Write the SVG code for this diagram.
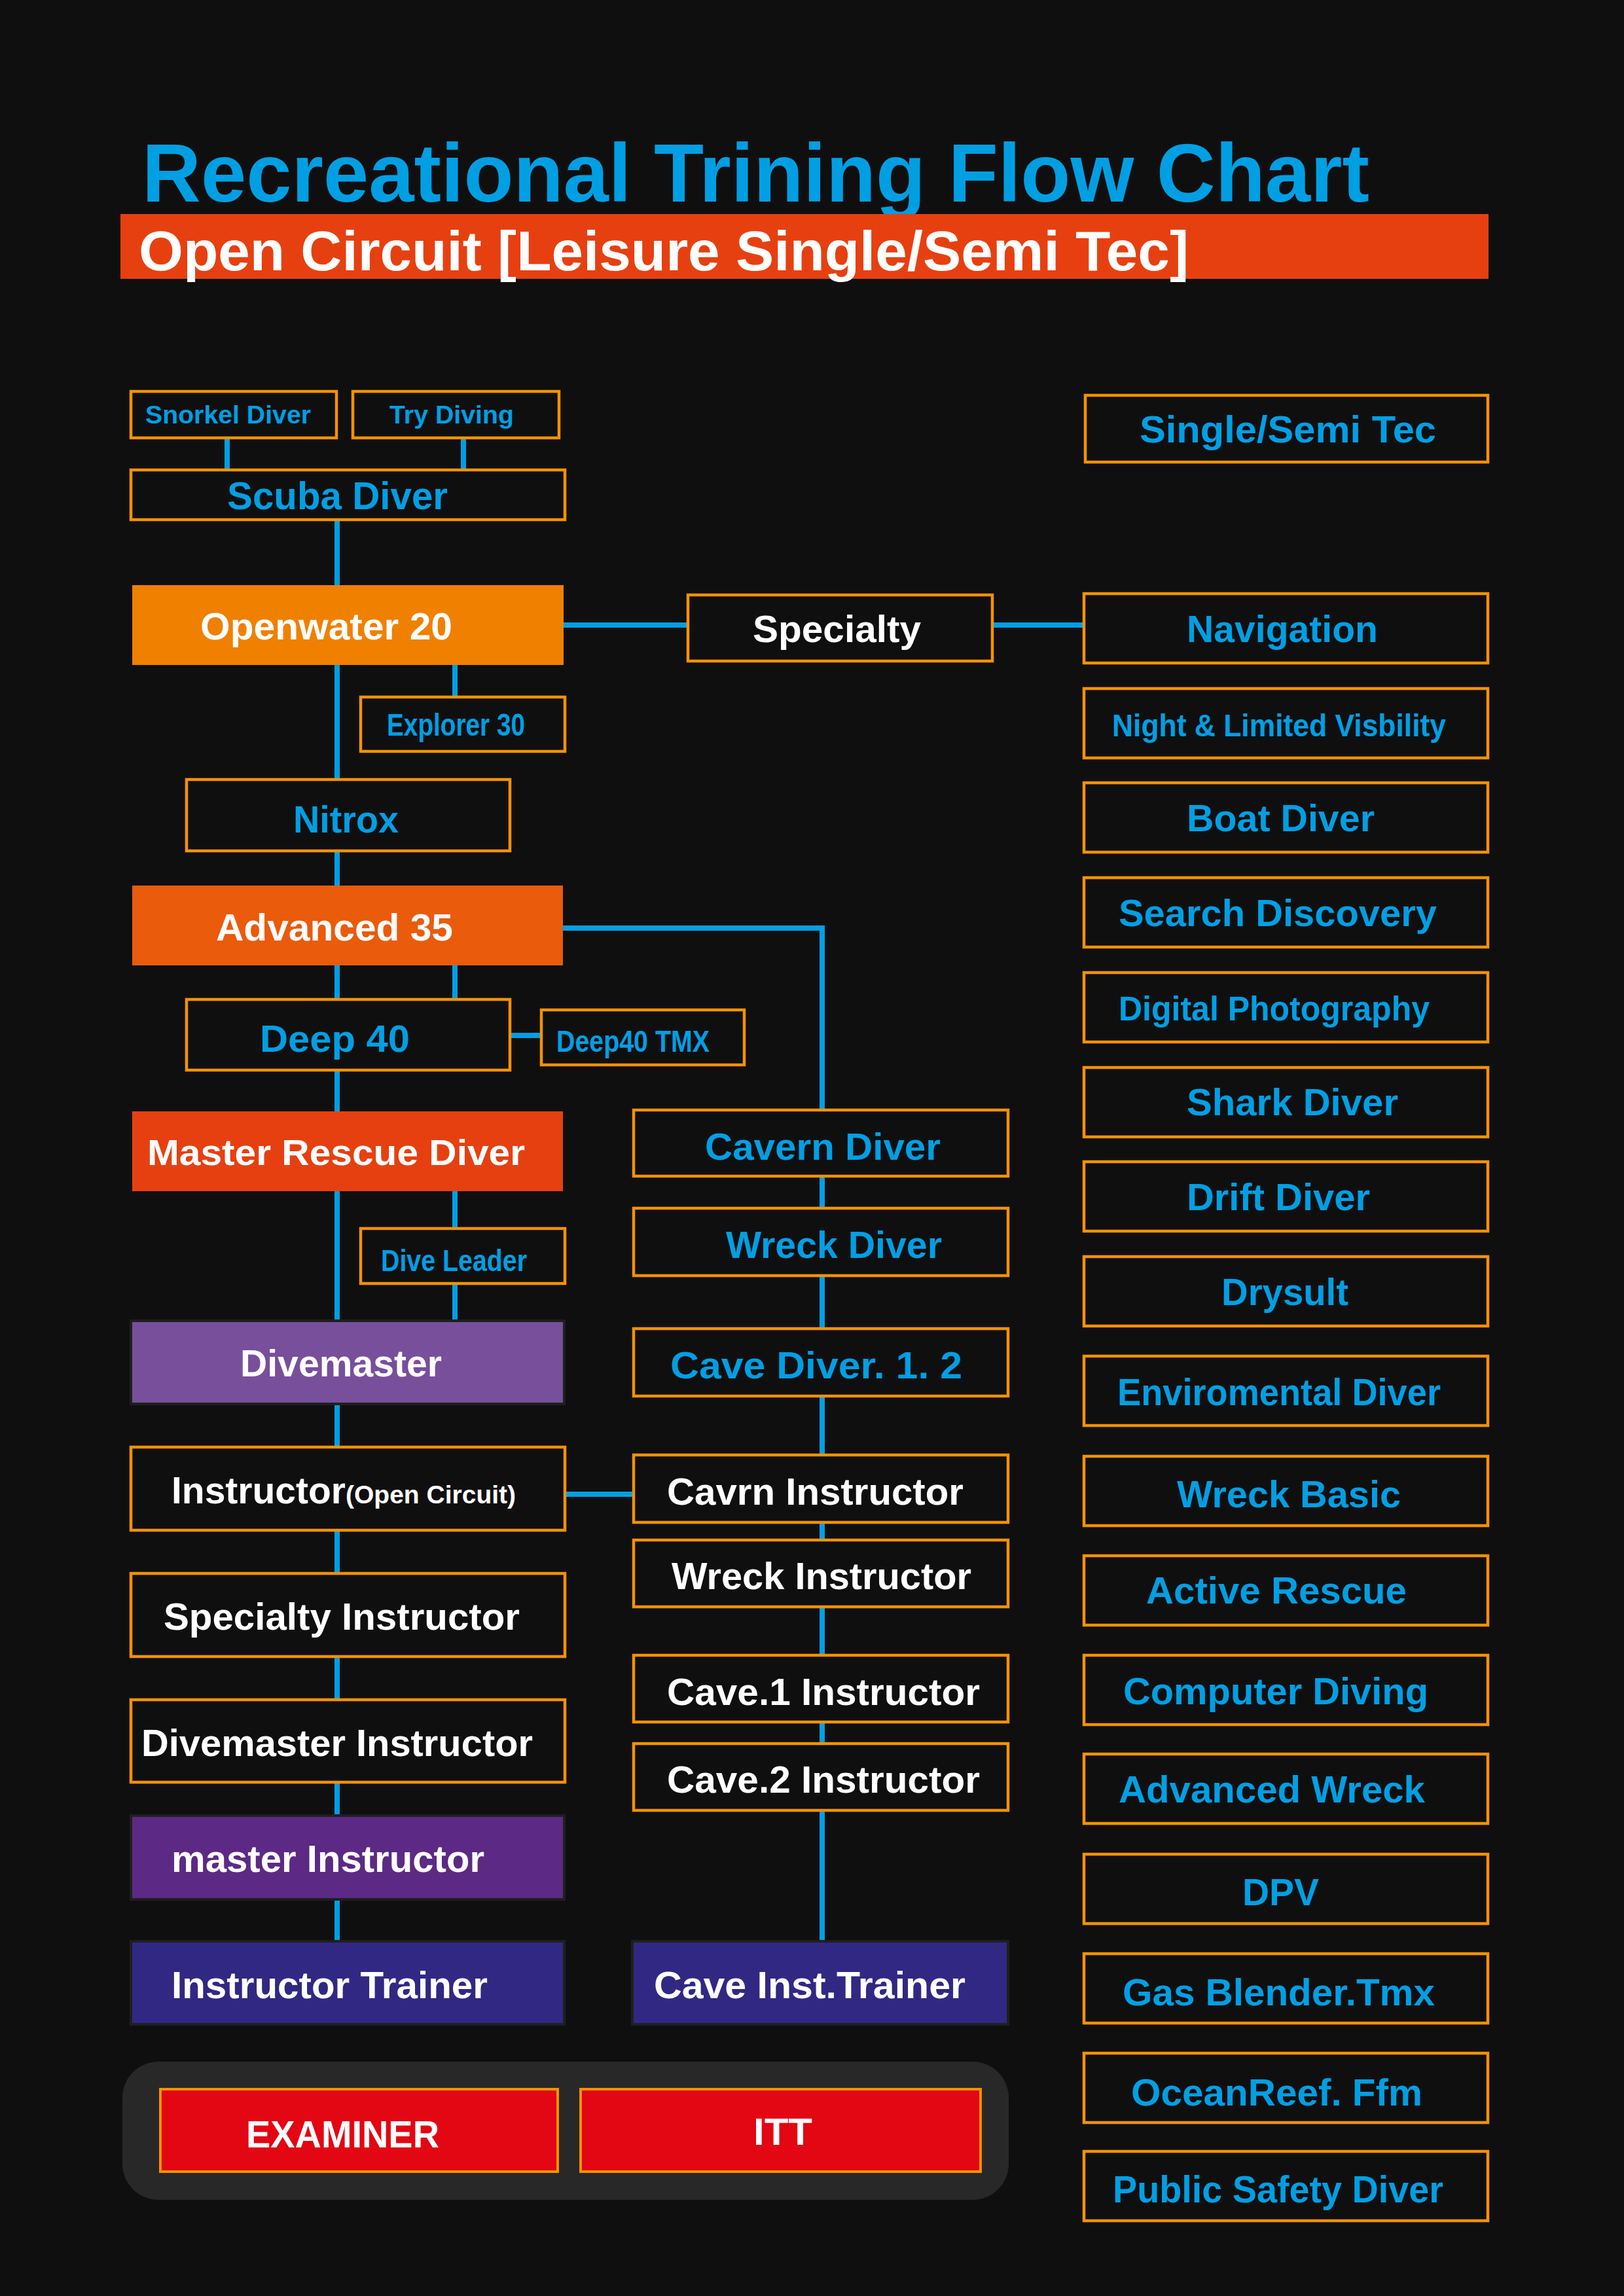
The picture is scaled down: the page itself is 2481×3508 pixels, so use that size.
<svg xmlns="http://www.w3.org/2000/svg" width="2481" height="3508" viewBox="0 0 2481 3508">
<style>
.t{font-family:"Liberation Sans",Arial,"Noto Sans CJK KR",sans-serif;font-weight:bold}
.b{fill:#009FE3}
.w{fill:#FFFFFF}
.bx{fill:#100F10;stroke:#F39200;stroke-width:4.5}
.sd{stroke:#1F1F1F;stroke-width:4}
.c{stroke:#009FE3;stroke-width:8;fill:none}
.f58{font-size:58px}
</style>
<rect x="0" y="0" width="2481" height="3508" fill="#100F10"/>
<g id="header">
<text class="t b" x="217" y="308" font-size="126" textLength="1875" lengthAdjust="spacingAndGlyphs">Recreational Trining Flow Chart</text>
<rect x="184" y="327" width="2090" height="99" fill="#E64011"/>
<text class="t w" x="212" y="413" font-size="86" textLength="1604" lengthAdjust="spacingAndGlyphs">Open Circuit [Leisure Single/Semi Tec]</text>
</g>
<g id="connectors">
<path class="c" d="M347 669V718M708 669V718M515 794V894M861 955H1051M1516 955H1656M515 1016V1191M695 1016V1065M515 1300V1353M515 1475V1527M695 1475V1527M779 1582H827M515 1635V1698M515 1820V2018M695 1820V1877M695 1961V2018M1256 1797V1846M1256 1949V2030M1256 2133V2223M515 2145V2211M863 2283H968M1256 2326V2353M1256 2455V2529M1256 2631V2664M1256 2766V2966M515 2338V2404M515 2531V2597M515 2723V2774M515 2902V2966"/>
<path class="c" d="M860 1418H1256V1696" stroke-linejoin="miter"/>
</g>
<g id="snorkel"><rect class="bx" x="200" y="598" width="314" height="71"/><text class="t b" x="222" y="647" font-size="38" textLength="253" lengthAdjust="spacingAndGlyphs">Snorkel Diver</text></g>
<g id="try"><rect class="bx" x="539" y="598" width="315" height="71"/><text class="t b" x="595" y="647" font-size="38" textLength="190" lengthAdjust="spacingAndGlyphs">Try Diving</text></g>
<g id="scuba"><rect class="bx" x="200" y="718" width="663" height="76"/><text class="t b" x="347" y="778" font-size="60" textLength="337" lengthAdjust="spacingAndGlyphs">Scuba Diver</text></g>
<g id="openwater"><rect x="202" y="894" width="659" height="122" fill="#F08000"/><text class="t w f58" x="306" y="977" textLength="385" lengthAdjust="spacingAndGlyphs">Openwater 20</text></g>
<g id="specialty"><rect class="bx" x="1051" y="909" width="465" height="101"/><text class="t w f58" x="1150" y="981" textLength="257" lengthAdjust="spacingAndGlyphs">Specialty</text></g>
<g id="explorer"><rect class="bx" x="551" y="1065" width="312" height="83"/><text class="t b" x="591" y="1124" font-size="48" textLength="211" lengthAdjust="spacingAndGlyphs">Explorer 30</text></g>
<g id="nitrox"><rect class="bx" x="285" y="1191" width="494" height="109"/><text class="t b f58" x="448" y="1272" textLength="161" lengthAdjust="spacingAndGlyphs">Nitrox</text></g>
<g id="advanced"><rect x="202" y="1353" width="658" height="122" fill="#EA5B0C"/><text class="t w f58" x="330" y="1437" textLength="362" lengthAdjust="spacingAndGlyphs">Advanced 35</text></g>
<g id="deep40"><rect class="bx" x="285" y="1527" width="494" height="108"/><text class="t b f58" x="397" y="1607" textLength="229" lengthAdjust="spacingAndGlyphs">Deep 40</text></g>
<g id="deep40tmx"><rect class="bx" x="827" y="1543" width="310" height="84"/><text class="t b" x="850" y="1607" font-size="46" textLength="234" lengthAdjust="spacingAndGlyphs">Deep40 TMX</text></g>
<g id="masterrescue"><rect x="202" y="1698" width="658" height="122" fill="#E64011"/><text class="t w" x="225" y="1780" font-size="56" textLength="577" lengthAdjust="spacingAndGlyphs">Master Rescue Diver</text></g>
<g id="diveleader"><rect class="bx" x="551" y="1877" width="312" height="84"/><text class="t b" x="582" y="1942" font-size="46" textLength="223" lengthAdjust="spacingAndGlyphs">Dive Leader</text></g>
<g id="divemaster"><rect class="sd" x="200" y="2018" width="662" height="127" fill="#784F9B"/><text class="t w f58" x="367" y="2103" textLength="308" lengthAdjust="spacingAndGlyphs">Divemaster</text></g>
<g id="instructor"><rect class="bx" x="200" y="2211" width="663" height="127"/><text class="t w" x="262" y="2297"><tspan font-size="57">Instructor</tspan><tspan font-size="39">(Open Circuit)</tspan></text></g>
<g id="specialtyinstructor"><rect class="bx" x="200" y="2404" width="663" height="127"/><text class="t w f58" x="250" y="2490" textLength="544" lengthAdjust="spacingAndGlyphs">Specialty Instructor</text></g>
<g id="divemasterinstructor"><rect class="bx" x="200" y="2597" width="663" height="126"/><text class="t w f58" x="216" y="2683" textLength="598" lengthAdjust="spacingAndGlyphs">Divemaster Instructor</text></g>
<g id="masterinstructor"><rect class="sd" x="200" y="2774" width="662" height="128" fill="#5C2A84"/><text class="t w f58" x="262" y="2860" textLength="478" lengthAdjust="spacingAndGlyphs">master Instructor</text></g>
<g id="instructortrainer"><rect class="sd" x="200" y="2966" width="662" height="127" fill="#312883"/><text class="t w f58" x="262" y="3053" textLength="483" lengthAdjust="spacingAndGlyphs">Instructor Trainer</text></g>
<g id="cavern"><rect class="bx" x="968" y="1696" width="572" height="101"/><text class="t b f58" x="1077" y="1772" textLength="360" lengthAdjust="spacingAndGlyphs">Cavern Diver</text></g>
<g id="wreckdiver"><rect class="bx" x="968" y="1846" width="572" height="103"/><text class="t b f58" x="1109" y="1922" textLength="330" lengthAdjust="spacingAndGlyphs">Wreck Diver</text></g>
<g id="cavediver"><rect class="bx" x="968" y="2030" width="572" height="103"/><text class="t b f58" x="1024" y="2106" textLength="446" lengthAdjust="spacingAndGlyphs">Cave Diver. 1. 2</text></g>
<g id="cavrninstructor"><rect class="bx" x="968" y="2223" width="572" height="103"/><text class="t w f58" x="1019" y="2299" textLength="453" lengthAdjust="spacingAndGlyphs">Cavrn Instructor</text></g>
<g id="wreckinstructor"><rect class="bx" x="968" y="2353" width="572" height="102"/><text class="t w f58" x="1026" y="2428" textLength="458" lengthAdjust="spacingAndGlyphs">Wreck Instructor</text></g>
<g id="cave1instructor"><rect class="bx" x="968" y="2529" width="572" height="102"/><text class="t w f58" x="1019" y="2605" textLength="478" lengthAdjust="spacingAndGlyphs">Cave.1 Instructor</text></g>
<g id="cave2instructor"><rect class="bx" x="968" y="2664" width="572" height="102"/><text class="t w f58" x="1019" y="2739" textLength="478" lengthAdjust="spacingAndGlyphs">Cave.2 Instructor</text></g>
<g id="caveinsttrainer"><rect class="sd" x="966" y="2966" width="574" height="127" fill="#312883"/><text class="t w f58" x="999" y="3053" textLength="476" lengthAdjust="spacingAndGlyphs">Cave Inst.Trainer</text></g>
<g id="bottompanel">
<rect x="187" y="3150" width="1354" height="211" rx="55" fill="#282828"/>
<g id="examiner"><rect x="245" y="3192" width="607" height="126" fill="#E30613" stroke="#F39200" stroke-width="4"/><text class="t w" x="376" y="3281" font-size="57" textLength="295" lengthAdjust="spacingAndGlyphs">EXAMINER</text></g>
<g id="itt"><rect x="887" y="3192" width="611" height="126" fill="#E30613" stroke="#F39200" stroke-width="4"/><text class="t w" x="1151" y="3277" font-size="57" textLength="90" lengthAdjust="spacingAndGlyphs">ITT</text></g>
</g>
<g id="singlesemitec"><rect class="bx" x="1658" y="604" width="615" height="102"/><text class="t b f58" x="1741" y="676" textLength="453" lengthAdjust="spacingAndGlyphs">Single/Semi Tec</text></g>
<g id="navigation"><rect class="bx" x="1656" y="907" width="617" height="106"/><text class="t b f58" x="1813" y="981" textLength="292" lengthAdjust="spacingAndGlyphs">Navigation</text></g>
<g id="night"><rect class="bx" x="1656" y="1052" width="617" height="106"/><text class="t b" x="1699" y="1125" font-size="48" textLength="510" lengthAdjust="spacingAndGlyphs">Night &amp; Limited Visbility</text></g>
<g id="boat"><rect class="bx" x="1656" y="1196" width="617" height="106"/><text class="t b f58" x="1813" y="1270" textLength="287" lengthAdjust="spacingAndGlyphs">Boat Diver</text></g>
<g id="search"><rect class="bx" x="1656" y="1341" width="617" height="106"/><text class="t b f58" x="1709" y="1415" textLength="486" lengthAdjust="spacingAndGlyphs">Search Discovery</text></g>
<g id="digital"><rect class="bx" x="1656" y="1486" width="617" height="106"/><text class="t b" x="1709" y="1559" font-size="51" textLength="475" lengthAdjust="spacingAndGlyphs">Digital Photography</text></g>
<g id="shark"><rect class="bx" x="1656" y="1631" width="617" height="106"/><text class="t b f58" x="1813" y="1704" textLength="323" lengthAdjust="spacingAndGlyphs">Shark Diver</text></g>
<g id="drift"><rect class="bx" x="1656" y="1775" width="617" height="106"/><text class="t b f58" x="1813" y="1849" textLength="280" lengthAdjust="spacingAndGlyphs">Drift Diver</text></g>
<g id="drysult"><rect class="bx" x="1656" y="1920" width="617" height="106"/><text class="t b f58" x="1866" y="1994" textLength="194" lengthAdjust="spacingAndGlyphs">Drysult</text></g>
<g id="enviromental"><rect class="bx" x="1656" y="2072" width="617" height="106"/><text class="t b f58" x="1707" y="2147" textLength="494" lengthAdjust="spacingAndGlyphs">Enviromental Diver</text></g>
<g id="wreckbasic"><rect class="bx" x="1656" y="2225" width="617" height="106"/><text class="t b f58" x="1798" y="2303" textLength="342" lengthAdjust="spacingAndGlyphs">Wreck Basic</text></g>
<g id="activerescue"><rect class="bx" x="1656" y="2377" width="617" height="106"/><text class="t b f58" x="1751" y="2450" textLength="398" lengthAdjust="spacingAndGlyphs">Active Rescue</text></g>
<g id="computer"><rect class="bx" x="1656" y="2529" width="617" height="106"/><text class="t b f58" x="1716" y="2604" textLength="466" lengthAdjust="spacingAndGlyphs">Computer Diving</text></g>
<g id="advancedwreck"><rect class="bx" x="1656" y="2680" width="617" height="106"/><text class="t b f58" x="1709" y="2754" textLength="468" lengthAdjust="spacingAndGlyphs">Advanced Wreck</text></g>
<g id="dpv"><rect class="bx" x="1656" y="2833" width="617" height="106"/><text class="t b f58" x="1898" y="2911" textLength="117" lengthAdjust="spacingAndGlyphs">DPV</text></g>
<g id="gasblender"><rect class="bx" x="1656" y="2985" width="617" height="106"/><text class="t b f58" x="1715" y="3064" textLength="477" lengthAdjust="spacingAndGlyphs">Gas Blender.Tmx</text></g>
<g id="oceanreef"><rect class="bx" x="1656" y="3137" width="617" height="106"/><text class="t b f58" x="1728" y="3217" textLength="445" lengthAdjust="spacingAndGlyphs">OceanReef. Ffm</text></g>
<g id="publicsafety"><rect class="bx" x="1656" y="3287" width="617" height="106"/><text class="t b f58" x="1700" y="3365" textLength="505" lengthAdjust="spacingAndGlyphs">Public Safety Diver</text></g>
</svg>
